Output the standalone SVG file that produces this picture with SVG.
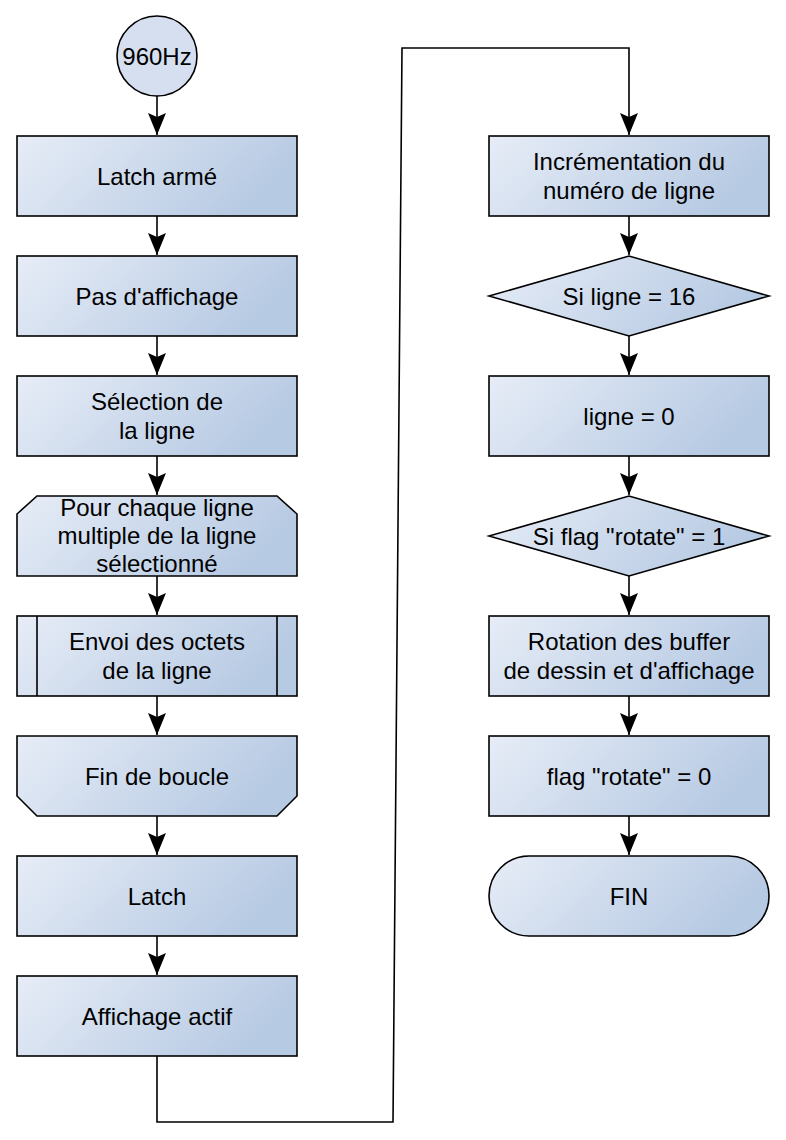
<svg xmlns="http://www.w3.org/2000/svg" width="786" height="1140" viewBox="0 0 786 1140">
<defs>
<linearGradient id="g" x1="0" y1="0" x2="1" y2="0.3">
<stop offset="0" stop-color="#e7edf7"/>
<stop offset="1" stop-color="#b7cae3"/>
</linearGradient>
<marker id="arr" markerUnits="userSpaceOnUse" markerWidth="26" markerHeight="20" refX="24" refY="10" orient="auto" viewBox="0 0 26 20">
<path d="M24,10 L2,1 L6,10 L2,19 Z" fill="#000"/>
</marker>
</defs>
<style>
.n{fill:url(#g);stroke:#000;stroke-width:1.6}
.c{fill:none;stroke:#000;stroke-width:1.6}
.t{font-family:"Liberation Sans",Arial,sans-serif;font-size:24px;fill:#000;text-anchor:middle}
</style>
<rect width="786" height="1140" fill="#fff"/>
<g id="connectors">
<path class="c" d="M157,96 V135" marker-end="url(#arr)"/>
<path class="c" d="M157,216 V255" marker-end="url(#arr)"/>
<path class="c" d="M157,336 V375" marker-end="url(#arr)"/>
<path class="c" d="M157,456 V495" marker-end="url(#arr)"/>
<path class="c" d="M157,576 V615" marker-end="url(#arr)"/>
<path class="c" d="M157,696 V735" marker-end="url(#arr)"/>
<path class="c" d="M157,816 V855" marker-end="url(#arr)"/>
<path class="c" d="M157,936 V975" marker-end="url(#arr)"/>
<path class="c" d="M157,1056 V1122 H393 L402,48 H629 V135" marker-end="url(#arr)"/>
<path class="c" d="M629,216 V255" marker-end="url(#arr)"/>
<path class="c" d="M629,336 V375" marker-end="url(#arr)"/>
<path class="c" d="M629,456 V495" marker-end="url(#arr)"/>
<path class="c" d="M629,576 V615" marker-end="url(#arr)"/>
<path class="c" d="M629,696 V735" marker-end="url(#arr)"/>
<path class="c" d="M629,816 V855" marker-end="url(#arr)"/>
</g>
<g id="start">
<circle cx="157" cy="56" r="40" fill="#d5dff0" stroke="#000" stroke-width="1.6"/>
<text class="t" x="157" y="65">960Hz</text>
</g>
<g id="latch-arme">
<rect class="n" x="17" y="136" width="280" height="80"/>
<text class="t" x="157" y="185">Latch armé</text>
</g>
<g id="pas-affichage">
<rect class="n" x="17" y="256" width="280" height="80"/>
<text class="t" x="157" y="305">Pas d'affichage</text>
</g>
<g id="selection">
<rect class="n" x="17" y="376" width="280" height="80"/>
<text class="t" x="157" y="410">Sélection de</text>
<text class="t" x="157" y="439">la ligne</text>
</g>
<g id="pour-chaque">
<path class="n" d="M37,496 H277 L297,514 V576 H17 V514 Z"/>
<text class="t" x="157" y="516">Pour chaque ligne</text>
<text class="t" x="157" y="544">multiple de la ligne</text>
<text class="t" x="157" y="572">sélectionné</text>
</g>
<g id="envoi">
<rect class="n" x="17" y="616" width="280" height="80"/>
<path class="c" d="M37,616 V696 M277,616 V696"/>
<text class="t" x="157" y="650">Envoi des octets</text>
<text class="t" x="157" y="679">de la ligne</text>
</g>
<g id="fin-boucle">
<path class="n" d="M17,736 H297 V796 L277,816 H37 L17,796 Z"/>
<text class="t" x="157" y="785">Fin de boucle</text>
</g>
<g id="latch">
<rect class="n" x="17" y="856" width="280" height="80"/>
<text class="t" x="157" y="905">Latch</text>
</g>
<g id="affichage-actif">
<rect class="n" x="17" y="976" width="280" height="80"/>
<text class="t" x="157" y="1025">Affichage actif</text>
</g>
<g id="incrementation">
<rect class="n" x="489" y="136" width="280" height="80"/>
<text class="t" x="629" y="170">Incrémentation du</text>
<text class="t" x="629" y="199">numéro de ligne</text>
</g>
<g id="si-ligne">
<path class="n" d="M489,296 L629,256 L769,296 L629,336 Z"/>
<text class="t" x="629" y="305">Si ligne = 16</text>
</g>
<g id="ligne-0">
<rect class="n" x="489" y="376" width="280" height="80"/>
<text class="t" x="629" y="425">ligne = 0</text>
</g>
<g id="si-flag">
<path class="n" d="M489,536 L629,496 L769,536 L629,576 Z"/>
<text class="t" x="629" y="545">Si flag "rotate" = 1</text>
</g>
<g id="rotation">
<rect class="n" x="489" y="616" width="280" height="80"/>
<text class="t" x="629" y="650">Rotation des buffer</text>
<text class="t" x="629" y="679">de dessin et d'affichage</text>
</g>
<g id="flag-0">
<rect class="n" x="489" y="736" width="280" height="80"/>
<text class="t" x="629" y="785">flag "rotate" = 0</text>
</g>
<g id="fin">
<rect class="n" x="489" y="856" width="280" height="80" rx="40" ry="40"/>
<text class="t" x="629" y="905">FIN</text>
</g>
</svg>
